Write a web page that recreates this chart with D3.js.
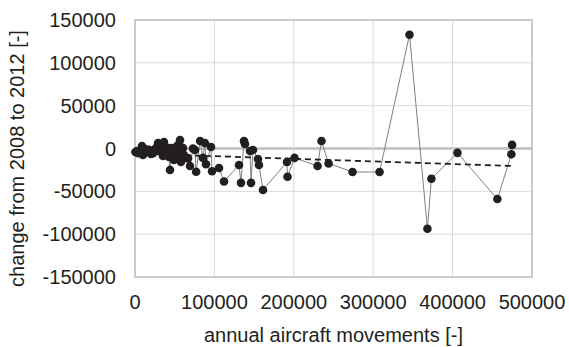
<!DOCTYPE html>
<html lang="en">
<head>
	<meta charset="UTF-8"/>
	<title>Aircraft movements change</title>
	<script src="https://d3js.org/d3.v7.min.js"></script>
	<style>
		body { margin: 0; background: #fff; }
		text { font-family: "Liberation Sans", Arial, sans-serif; fill: #231f20; }
	</style>
</head>
<body>
	<script>
		// annual aircraft movements (x) and change 2008->2012 (y)
		var movements = [500, 2500, 4000, 6500, 8800, 10000, 12600, 15100, 17600, 20100, 22700, 25200, 27700,
			29000, 30200, 32700, 34000, 35300, 36500, 37800, 39000, 40300, 41600, 42800, 44100, 45300, 46600,
			47900, 49100, 50400, 51600, 52900, 54200, 55400, 56700, 57900, 59200, 60500, 61700, 64200, 66800,
			69300, 73000, 75500, 77000, 82000, 85600, 88000, 89400, 95700, 97000, 105800, 112100, 131000, 133500,
			137300, 138500, 144800, 146100, 148600, 154900, 156100, 161200, 191400, 192100, 200900, 229900,
			234900, 243800, 274000, 308000, 345700, 368300, 373300, 406100, 456400, 474000, 474900];
		var change = [-4000, -3000, -5500, -2500, 3000, -7500, -500, -4000, -1500, -6500, -5500, -500, 1800,
			6400, -3000, 4000, -4500, -8800, 7600, 3000, -1800, -7500, -2300, -10000, -25000, 600, -10000,
			-4000, -13400, 600, -5500, 3000, -8800, 5300, 9900, -15700, -4000, 600, -7600, -11000, -11500,
			-20400, 0, -1700, -27200, 8800, -11000, 6500, -18300, 1800, -26600, -22800, -38500, -19300, -40100,
			8800, 5300, -2900, -40100, -1800, -12300, -19300, -48400, -15700, -33000, -11000, -20400, 8800,
			-17500, -27400, -27400, 132800, -93700, -35300, -5100, -59000, -6800, 4200];
		var trendX = [0, 475000];
		var trendY = [-5900, -20400];
		var xTicks = [0, 100000, 200000, 300000, 400000, 500000];
		var yTicks = [-150000, -100000, -50000, 0, 50000, 100000, 150000];

		var w = 569, h = 347;
		var mLeft = 135, mRight = 532, mTop = 20, mBottom = 277;

		var svg = d3.select("body").append("svg").attr("width", w).attr("height", h);

		var xScale = d3.scaleLinear().domain([0, 500000]).range([mLeft, mRight]);
		var yScale = d3.scaleLinear().domain([-150000, 150000]).range([mBottom, mTop]);

		// gridlines
		svg.selectAll(".hgrid").data(yTicks).enter().append("line")
			.attr("x1", mLeft).attr("x2", mRight)
			.attr("y1", function(d){ return yScale(d); })
			.attr("y2", function(d){ return yScale(d); })
			.attr("stroke", function(d){ return d === 0 ? "#bfbfbf" : "#d9d9d9"; })
			.attr("stroke-width", function(d){ return d === 0 ? 2.5 : 1; });

		svg.selectAll(".vgrid").data(xTicks).enter().append("line")
			.attr("y1", mTop).attr("y2", mBottom)
			.attr("x1", function(d){ return xScale(d); })
			.attr("x2", function(d){ return xScale(d); })
			.attr("stroke", "#d9d9d9")
			.attr("stroke-width", 1);

		// plot frame
		svg.append("rect")
			.attr("x", mLeft).attr("y", mTop)
			.attr("width", mRight - mLeft).attr("height", mBottom - mTop)
			.attr("fill", "none").attr("stroke", "#bfbfbf").attr("stroke-width", 1.5);

		var points = movements.map(function(d, i){ return [d, change[i]]; })
			.sort(function(a, b){ return a[0] - b[0]; });

		var line = d3.line()
			.x(function(d){ return xScale(d[0]); })
			.y(function(d){ return yScale(d[1]); });

		svg.append("path").datum(points)
			.attr("d", line)
			.attr("fill", "none")
			.attr("stroke", "#808080")
			.attr("stroke-width", 1);

		svg.append("path").datum(trendX.map(function(d, i){ return [d, trendY[i]]; }))
			.attr("d", line)
			.attr("fill", "none")
			.attr("stroke", "#231f20")
			.attr("stroke-width", 1.8)
			.attr("stroke-dasharray", "6,4");

		svg.selectAll("circle").data(points).enter().append("circle")
			.attr("cx", function(d){ return xScale(d[0]); })
			.attr("cy", function(d){ return yScale(d[1]); })
			.attr("r", 4.3)
			.attr("fill", "#231f20");

		// tick labels
		svg.selectAll(".ylab").data(yTicks).enter().append("text")
			.attr("x", mLeft - 19)
			.attr("y", function(d){ return yScale(d) + 7; })
			.attr("text-anchor", "end")
			.attr("font-size", 20)
			.text(function(d){ return d; });

		svg.selectAll(".xlab").data(xTicks).enter().append("text")
			.attr("x", function(d){ return xScale(d); })
			.attr("y", 309)
			.attr("text-anchor", "middle")
			.attr("font-size", 20)
			.text(function(d){ return d; });

		svg.append("text")
			.attr("x", (mLeft + mRight) / 2)
			.attr("y", 342)
			.attr("text-anchor", "middle")
			.attr("font-size", 20)
			.text("annual aircraft movements [-]");

		svg.append("text")
			.attr("transform", "translate(24," + ((mTop + mBottom) / 2 + 10) + ") rotate(-90)")
			.attr("text-anchor", "middle")
			.attr("font-size", 20)
			.text("change from 2008 to 2012 [-]");
	</script>
</body>
</html>
